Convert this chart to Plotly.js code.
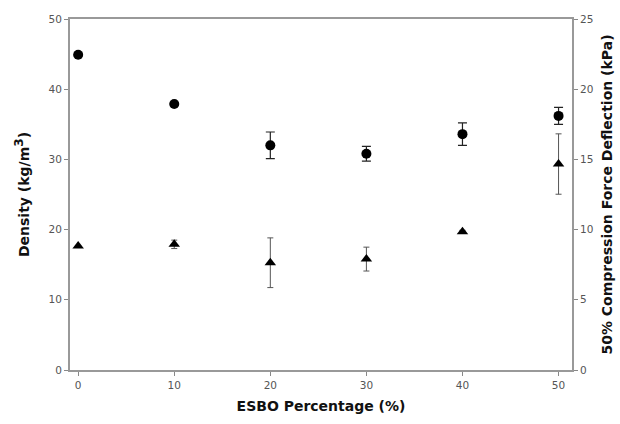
<!DOCTYPE html>
<html><head><meta charset="utf-8">
<script src="https://cdn.plot.ly/plotly-3.0.1.min.js"></script>
<style>body{margin:0;background:#fff}#c{width:620px;height:424px}</style>
</head><body><div id="c"></div>
<script>
const esbo = [0, 10, 20, 30, 40, 50];
const density = [44.9, 37.9, 32.0, 30.8, 33.6, 36.2];
const densityErr = [0, 0, 1.9, 1.05, 1.6, 1.2];
const force = [8.83, 8.95, 7.64, 7.9, 9.85, 14.67];
const forceErr = [0, 0.3, 1.77, 0.85, 0.1, 2.15];

const traces = [
  {x: esbo, y: density, type: 'scatter', mode: 'markers', name: 'Density',
   marker: {symbol: 'circle', size: 10, color: '#000'},
   error_y: {type: 'data', array: densityErr, visible: true, color: '#222', thickness: 1.2, width: 4.5}},
  {x: esbo, y: force, type: 'scatter', mode: 'markers', name: 'Force', yaxis: 'y2',
   marker: {symbol: 'triangle-up', size: 10, color: '#000'},
   error_y: {type: 'data', array: forceErr, visible: true, color: '#555', thickness: 1, width: 3}}
];
const tickFont = {family: 'DejaVu Sans, sans-serif', size: 10.5, color: '#555'};
const titleFont = {family: 'DejaVu Sans, sans-serif', size: 14, color: '#111', weight: 'bold'};
const layout = {
  width: 620, height: 424,
  margin: {l: 70, r: 48, t: 19, b: 54},
  paper_bgcolor: '#fff', plot_bgcolor: '#fff',
  showlegend: false,
  xaxis: {range: [-0.85, 51.4], tickvals: esbo, ticks: 'outside', ticklen: 4, tickcolor: '#888',
    showline: true, linecolor: '#999', linewidth: 2, mirror: true, showgrid: false, zeroline: false,
    tickfont: tickFont, title: {text: '<b>ESBO Percentage (%)</b>', font: titleFont, standoff: 12}},
  yaxis: {range: [0, 50], dtick: 10, ticks: 'outside', ticklen: 4, tickcolor: '#888',
    showline: true, linecolor: '#999', linewidth: 2, showgrid: false, zeroline: false,
    tickfont: tickFont, title: {text: "<b>Density (kg/m<sup><span style='font-size:12px'>3</span></sup>)</b>", font: titleFont, standoff: 16}},
  yaxis2: {range: [0, 25], dtick: 5, overlaying: 'y', side: 'right', ticks: 'outside', ticklen: 4, tickcolor: '#888',
    showline: true, linecolor: '#999', linewidth: 2, showgrid: false, zeroline: false,
    tickfont: tickFont, title: {text: '<b>50% Compression Force Deflection (kPa)</b>', font: titleFont, standoff: 10}}
};
Plotly.newPlot('c', traces, layout, {displayModeBar: false, staticPlot: true});
</script></body></html>
